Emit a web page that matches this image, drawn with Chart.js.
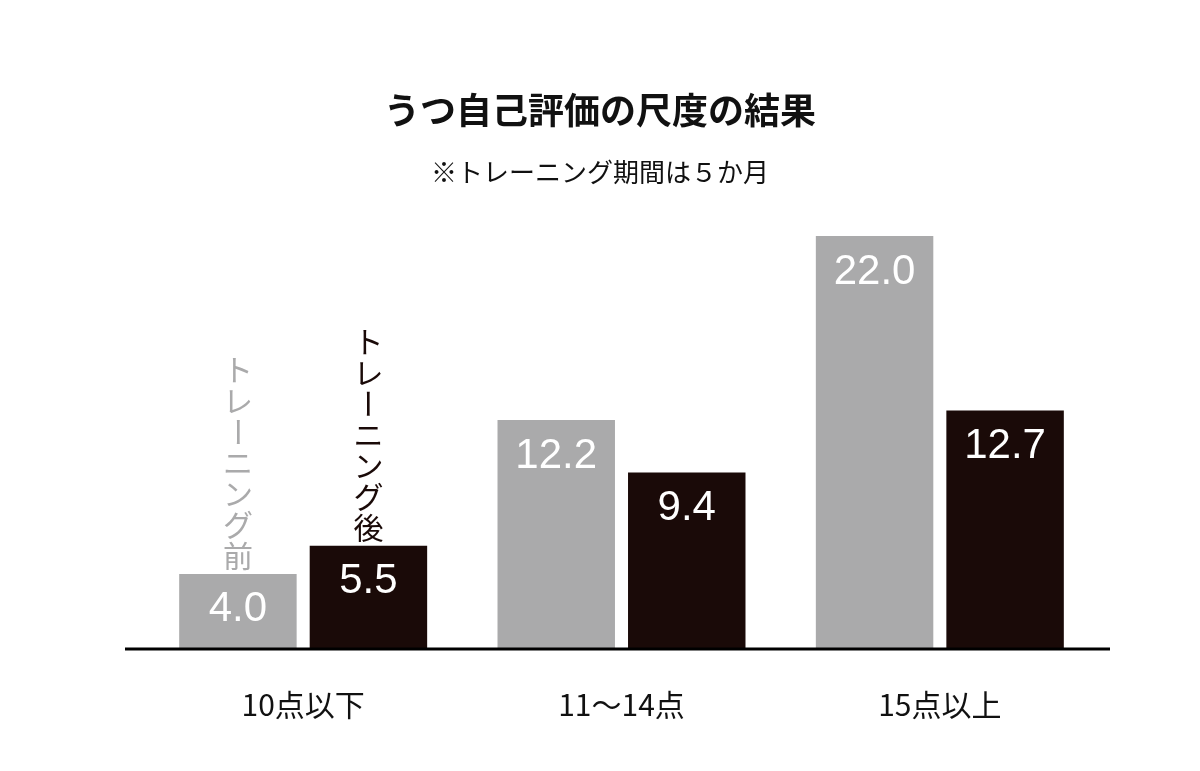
<!DOCTYPE html>
<html><head><meta charset="utf-8">
<script src="https://cdn.jsdelivr.net/npm/chart.js@4"></script>
<style>html,body{margin:0;background:#fff}#wrap{width:1200px;height:771px}</style>
</head><body><div id="wrap"><canvas id="c"></canvas></div>
<script>
const categories = ["10点以下", "11〜14点", "15点以上"];
const beforeValues = [4.0, 12.2, 22.0];
const afterValues = [5.5, 9.4, 12.7];
const seriesNames = ["トレーニング前", "トレーニング後"];
const titleText = "うつ自己評価の尺度の結果";
const subtitleText = "※トレーニング期間は５か月";

const JP = '"Noto Sans CJK JP", sans-serif';

const deco = {
  id: "deco",
  afterDraw(chart) {
    const ctx = chart.ctx, x = chart.scales.x, y = chart.scales.y;
    ctx.save();
    // base line
    ctx.strokeStyle = "#000"; ctx.lineWidth = 3;
    ctx.beginPath(); ctx.moveTo(125, y.getPixelForValue(0)); ctx.lineTo(1110, y.getPixelForValue(0)); ctx.stroke();
    ctx.textAlign = "center"; ctx.textBaseline = "middle";
    ctx.fillStyle = "#111";
    ctx.font = "bold 36px " + JP; ctx.fillText(titleText, 600, 110);
    ctx.font = "26px " + JP; ctx.fillText(subtitleText, 600, 172);
    ctx.font = "30px " + JP;
    categories.forEach((c, i) => ctx.fillText(c, x.getPixelForValue(i), 705));
    // value labels
    ctx.fillStyle = "#fff"; ctx.font = "42px 'Liberation Sans', Arial, sans-serif";
    chart.data.datasets.forEach((ds, di) => {
      chart.getDatasetMeta(di).data.forEach((bar, i) => {
        ctx.fillText(ds.data[i].toFixed(1), bar.x, bar.y + 36);
      });
    });
    // vertical legend text over first group
    ctx.font = "30px " + JP;
    const cols = ["#aaaaab", "#1a0a08"];
    chart.data.datasets.forEach((ds, di) => {
      const bar = chart.getDatasetMeta(di).data[0];
      const chars = [...seriesNames[di]];
      ctx.fillStyle = cols[di];
      const step = 31;
      let yy = bar.y - 18 - (chars.length - 1) * step;
      chars.forEach(ch => {
        if (ch === "ー") {
          ctx.save(); ctx.translate(bar.x, yy); ctx.rotate(Math.PI / 2); ctx.fillText(ch, 0, 0); ctx.restore();
        } else ctx.fillText(ch, bar.x, yy);
        yy += step;
      });
    });
    ctx.restore();
  }
};

new Chart(document.getElementById("c"), {
  type: "bar",
  data: {
    labels: categories,
    datasets: [
      { label: seriesNames[0], data: beforeValues, backgroundColor: "#aaaaab" },
      { label: seriesNames[1], data: afterValues, backgroundColor: "#1a0a08" }
    ]
  },
  options: {
    responsive: true, maintainAspectRatio: false, animation: false,
    categoryPercentage: 0.82, barPercentage: 0.9,
    layout: { padding: { left: 144, right: 101, top: 236, bottom: 122 } },
    plugins: { legend: { display: false }, tooltip: { enabled: false } },
    scales: {
      x: { display: false },
      y: { display: false, min: 0, max: 22 }
    }
  },
  plugins: [deco]
});
</script></body></html>
